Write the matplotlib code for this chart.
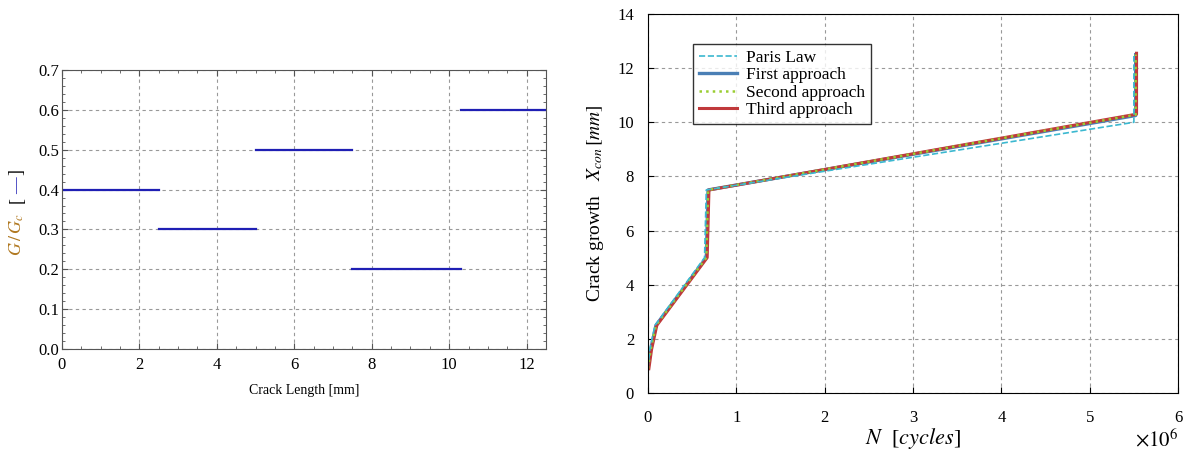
import matplotlib.pyplot as plt
from matplotlib.ticker import MultipleLocator

plt.rcParams['font.family'] = ['Liberation Serif', 'DejaVu Serif']
plt.rcParams['mathtext.fontset'] = 'stix'

# left panel: G/Gc versus crack length (piecewise constant)
seg_start = [0.0, 2.5, 5.0, 7.5, 10.3]
seg_end = [2.5, 5.0, 7.5, 10.3, 12.5]
seg_ratio = [0.4, 0.3, 0.5, 0.2, 0.6]

# right panel: crack growth versus cycles (x 1e6)
paris_n = [0.00, 0.02, 0.08, 0.64, 0.66, 5.50, 5.50]
paris_x = [0.9, 1.6, 2.5, 5.0, 7.5, 10.0, 12.45]
first_n = [0.00, 0.03, 0.09, 0.66, 0.68, 5.52, 5.52]
first_x = [0.9, 1.6, 2.5, 5.0, 7.5, 10.25, 12.5]
second_n = [0.00, 0.03, 0.09, 0.66, 0.68, 5.52, 5.52]
second_x = [0.9, 1.6, 2.5, 5.0, 7.5, 10.28, 12.5]
third_n = [0.01, 0.04, 0.10, 0.67, 0.69, 5.53, 5.53]
third_x = [0.9, 1.6, 2.5, 5.0, 7.5, 10.3, 12.55]

fig = plt.figure(figsize=(11.96, 4.59), dpi=100)

# ---- left
ax1 = fig.add_axes([0.0518, 0.2397, 0.4047, 0.6078])
for a, b, r in zip(seg_start, seg_end, seg_ratio):
    ax1.plot([a, b], [r, r], color='#1f1fb4', lw=1.6)
ax1.set_xlim(0, 12.5)
ax1.set_ylim(0, 0.7)
ax1.xaxis.set_major_locator(MultipleLocator(2))
ax1.xaxis.set_minor_locator(MultipleLocator(0.5))
ax1.yaxis.set_major_locator(MultipleLocator(0.1))
ax1.yaxis.set_minor_locator(MultipleLocator(0.02))
ax1.yaxis.set_major_formatter(plt.FuncFormatter(lambda v, p: f'{v:.1f}'))
ax1.tick_params(which='both', direction='in', top=True, right=True,
                labelsize=12, color='#555555')
ax1.tick_params(axis='x', pad=6)
ax1.tick_params(axis='y', pad=2)
ax1.tick_params(which='major', length=4)
ax1.tick_params(which='minor', length=2)
ax1.grid(True, ls=(0, (3, 3)), color='#999999', lw=0.8)
for s in ax1.spines.values():
    s.set_color('#555555')
ax1.set_xlabel('Crack Length [mm]', fontsize=10, labelpad=8)
fig.text(0.014, 0.488, r'$G\,/\,G_c$', rotation=90, color='#b07820',
         fontsize=13, ha='center', va='center')
fig.text(0.014, 0.565, '[', rotation=90, fontsize=13, ha='center', va='center')
fig.text(0.014, 0.595, '—', rotation=90, fontsize=12, ha='center', va='center',
         color='#1f1fb4')
fig.text(0.014, 0.625, ']', rotation=90, fontsize=13, ha='center', va='center')

# ---- right
ax2 = fig.add_axes([0.5418, 0.1438, 0.4432, 0.8257])
ax2.plot(first_n, first_x, color='#4a7fb5', lw=2.4, label='First approach')
ax2.plot(third_n, third_x, color='#c0393b', lw=2.2, label='Third approach')
ax2.plot(second_n, second_x, color='#9acd32', lw=1.8, ls=':', label='Second approach')
ax2.plot(paris_n, paris_x, color='#3bb8d0', lw=1.2, ls='--', label='Paris Law')
h, l = ax2.get_legend_handles_labels()
order = [3, 0, 2, 1]
leg = ax2.legend([h[i] for i in order], [l[i] for i in order],
                 loc='upper left', bbox_to_anchor=(0.068, 0.945), fontsize=12.5,
                 frameon=True, fancybox=False, edgecolor='black',
                 handlelength=2.2, borderpad=0.35, labelspacing=0.08,
                 handletextpad=0.5)
leg.get_frame().set_linewidth(1.0)
ax2.set_xlim(0, 6)
ax2.set_ylim(0, 14)
ax2.xaxis.set_major_locator(MultipleLocator(1))
ax2.yaxis.set_major_locator(MultipleLocator(2))
ax2.tick_params(direction='in', labelsize=12, length=4)
ax2.tick_params(axis='x', pad=12)
ax2.tick_params(axis='y', pad=10)
ax2.grid(True, ls=(0, (3, 3)), color='#999999', lw=0.8)
ax2.set_xlabel(r'$N$  [$cycles$]', fontsize=16, labelpad=0)
ax2.set_ylabel(r'Crack growth   $X_{con}\,[mm]$', fontsize=14, labelpad=8)
fig.text(0.985, 0.04, r'$\times10^6$', fontsize=15, ha='right', va='center')

fig.savefig('out.png', dpi=100)
